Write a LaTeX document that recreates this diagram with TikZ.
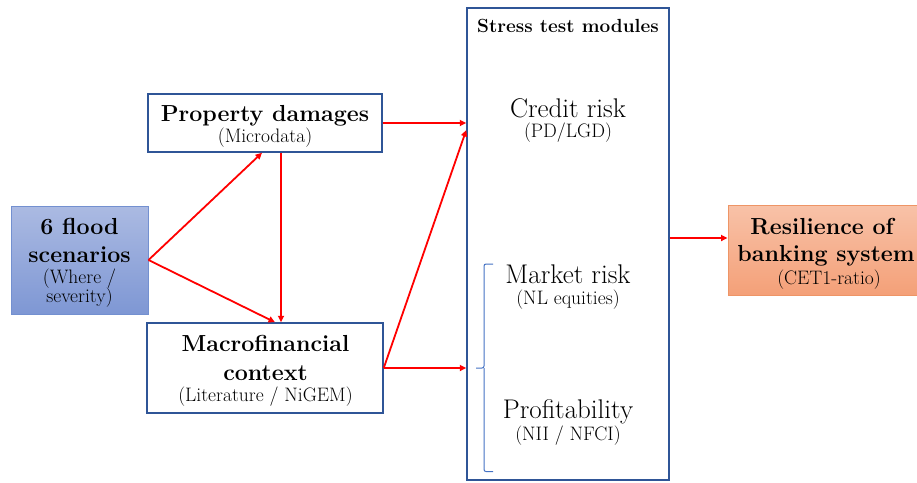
\documentclass[tikz,border=0pt]{standalone}
\usetikzlibrary{arrows.meta}
\definecolor{boxblue}{HTML}{2F5597}
\definecolor{bracketblue}{HTML}{4472C4}
\definecolor{floodtop}{HTML}{ABBAE2}
\definecolor{floodbot}{HTML}{7E97D4}
\definecolor{floodline}{HTML}{7390D0}
\definecolor{restop}{HTML}{F8C2A8}
\definecolor{resbot}{HTML}{F4A078}
\definecolor{resline}{HTML}{EE9566}
\newcommand\hdtxt{\fontsize{23.2}{25}\selectfont\bfseries}
\newcommand\bigtxt{\fontsize{27}{30}\selectfont}
\newcommand\smtxt{\fontsize{19.5}{22}\selectfont}
\newcommand\tittxt{\fontsize{19}{21}\selectfont\bfseries}
\tikzset{
  wbox/.style={draw=boxblue, line width=1.5pt, fill=white, rectangle, inner sep=0pt},
  txt/.style={anchor=base, inner sep=0pt},
  arr/.style={draw=red, line width=1.8pt, -{Triangle[length=6.5pt,width=6pt]}},
}
\begin{document}
\begin{tikzpicture}[x=1pt,y=-1pt]
\useasboundingbox (0,0) rectangle (917,482);
% boxes
\node[rectangle, draw=floodline, line width=1pt, top color=floodtop, bottom color=floodbot,
      minimum width=137pt, minimum height=108pt, inner sep=0pt] (flood) at (79.5,260) {};
\node[wbox, minimum width=234pt, minimum height=58pt] (prop) at (265,123) {};
\node[wbox, minimum width=236pt, minimum height=90pt] (macro) at (265,368) {};
\node[wbox, minimum width=202pt, minimum height=472pt] (stress) at (568,244) {};
\node[rectangle, draw=resline, line width=1pt, top color=restop, bottom color=resbot,
      minimum width=202pt, minimum height=90pt, inner sep=0pt] (res) at (829,250) {};
% texts
\node[txt] (t1a) at (79.5,234.3) {\hdtxt 6 flood};
\node[txt] (t1b) at (79.5,262.7) {\hdtxt scenarios};
\node[txt] (t1c) at (79.5,283.3) {\smtxt (Where /};
\node[txt] (t1d) at (79.5,302.5) {\smtxt severity)};
\node[txt] (t2a) at (265,121.5) {\hdtxt Property damages};
\node[txt] (t2b) at (265,142.5) {\smtxt (Microdata)};
\node[txt] (t3a) at (265.5,351.7) {\hdtxt Macrofinancial};
\node[txt] (t3b) at (265.5,380) {\hdtxt context};
\node[txt] (t3c) at (265.5,401.7) {\smtxt (Literature / NiGEM)};
\node[txt] (t4) at (568,32) {\tittxt Stress test modules};
\node[txt] (t5a) at (568,117) {\bigtxt Credit risk};
\node[txt] (t5b) at (568,137) {\smtxt (PD/LGD)};
\node[txt] (t6a) at (568,283) {\bigtxt Market risk};
\node[txt] (t6b) at (568,304) {\smtxt (NL equities)};
\node[txt] (t7a) at (568,418) {\bigtxt Profitability};
\node[txt] (t7b) at (568,440) {\smtxt (NII / NFCI)};
\node[txt] (t8a) at (822,234.3) {\hdtxt Resilience of};
\node[txt] (t8b) at (826,261.7) {\hdtxt banking system};
\node[txt] (t8c) at (829,284) {\smtxt (CET1-ratio)};
% bracket
\coordinate (bt) at (493,264);
\coordinate (bm) at (476,368);
\coordinate (bb) at (493,471.5);
\draw[bracketblue, line width=1pt, rounded corners=2pt]
  (bt) -- (bt -| 484,0) -- (bm -| 484,0) -- (bm);
\draw[bracketblue, line width=1pt, rounded corners=2pt]
  (bm -| 484,0) -- (bb -| 484,0) -- (bb);
% arrows
\draw[arr] (prop.east) -- (prop.east -| stress.west);
\draw[arr] (flood.east) -- ([xshift=-3pt]prop.south);
\draw[arr] (flood.east) -- ([xshift=10pt]macro.north);
\draw[arr] ([xshift=16pt]prop.south) -- ([xshift=16pt]prop.south |- macro.north);
\draw[arr] (macro.east) -- (macro.east -| stress.west);
\draw[arr] (macro.east) -- ([yshift=114pt]stress.west);
\coordinate (rin) at ([yshift=12pt]res.west);
\draw[arr] (stress.east |- rin) -- (rin);
\end{tikzpicture}
\end{document}
